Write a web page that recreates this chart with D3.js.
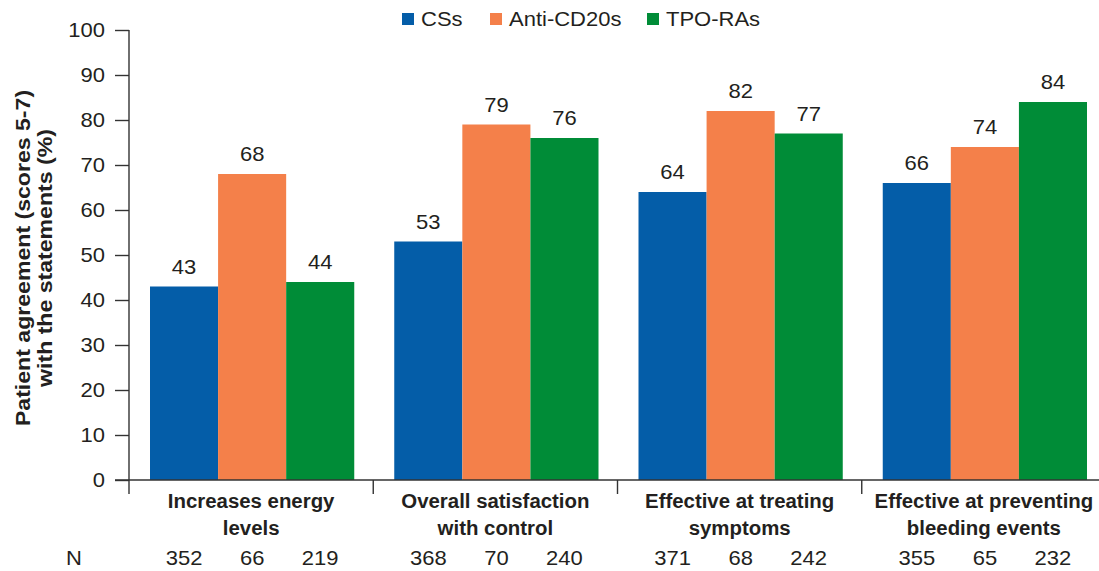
<!DOCTYPE html>
<html>
<head>
<meta charset="utf-8">
<script src="https://cdn.jsdelivr.net/npm/d3@7/dist/d3.min.js"></script>
<style>
  html, body { margin: 0; padding: 0; background: #fff; }
  svg { display: block; font-family: "Liberation Sans", Arial, sans-serif; }
</style>
</head>
<body>
<svg id="chart" width="1099" height="571"></svg>
<script>
// Statements (two-line labels)
const categories = [
  ["Increases energy", "levels"],
  ["Overall satisfaction", "with control"],
  ["Effective at treating", "symptoms"],
  ["Effective at preventing", "bleeding events"]
];
const seriesNames = ["CSs", "Anti-CD20s", "TPO-RAs"];
const seriesColors = ["#045da8", "#f4804a", "#008c37"];
const csValues = [43, 53, 64, 66];
const antiCd20Values = [68, 79, 82, 74];
const tpoValues = [44, 76, 77, 84];
const csN = [352, 368, 371, 355];
const antiCd20N = [66, 70, 68, 65];
const tpoN = [219, 240, 242, 232];
const yTicks = [0, 10, 20, 30, 40, 50, 60, 70, 80, 90, 100];

const values = [csValues, antiCd20Values, tpoValues];
const counts = [csN, antiCd20N, tpoN];
const textColor = "#231f20";
const axisColor = "#333";
const FONT = 20;
const SX = 1.1;       // slightly wide regular lettering
const SX_BOLD = 1.02; // bold lettering stretch

const svg = d3.select("#chart");

// Place a text item at (x, y) with a horizontal stretch
function label(parent, x, y, str, opts = {}) {
  const sx = opts.bold ? SX_BOLD : SX;
  return parent.append("text")
    .attr("transform", `translate(${x},${y}) scale(${sx},1)`)
    .attr("text-anchor", opts.anchor || "middle")
    .attr("font-size", opts.size || FONT)
    .attr("font-weight", opts.bold ? "bold" : null)
    .attr("fill", textColor)
    .text(str);
}

const x0 = d3.scaleBand()
  .domain(d3.range(categories.length))
  .range([129, 1106])
  .padding(0);

const x1 = d3.scaleBand()
  .domain(d3.range(seriesNames.length))
  .range([21, x0.bandwidth() - 19])
  .padding(0);

const y = d3.scaleLinear().domain([0, 100]).range([480, 30]);

// Bars
const groups = svg.append("g").selectAll("g")
  .data(categories.map((c, i) => i))
  .join("g")
  .attr("transform", i => `translate(${x0(i)},0)`);

groups.selectAll("rect")
  .data(i => seriesNames.map((s, j) => ({ j, v: values[j][i] })))
  .join("rect")
  .attr("x", d => x1(d.j))
  .attr("y", d => y(d.v))
  .attr("width", x1.bandwidth())
  .attr("height", d => y(0) - y(d.v))
  .attr("fill", d => seriesColors[d.j]);

// Value labels
const valueLayer = svg.append("g");
categories.forEach((c, i) => {
  seriesNames.forEach((s, j) => {
    const v = values[j][i];
    label(valueLayer, x0(i) + x1(j) + x1.bandwidth() / 2, y(v) - 13, v);
  });
});

// Y axis: domain line and ticks from the scale
const yAxis = svg.append("g")
  .attr("transform", "translate(129,0)")
  .call(d3.axisLeft(y).tickValues(yTicks).tickSize(14).tickFormat(""));
yAxis.select(".domain").attr("stroke", axisColor).attr("stroke-width", 1.4)
  .attr("d", `M0,${y(100)}V${y(0)}`);
yAxis.selectAll(".tick line").attr("stroke", axisColor).attr("stroke-width", 1.4);

const yLabels = svg.append("g");
yTicks.forEach(t => label(yLabels, 105, y(t) + 7, t, { anchor: "end" }));

// X axis baseline with group separators
svg.append("line")
  .attr("x1", 115).attr("x2", 1099)
  .attr("y1", y(0)).attr("y2", y(0))
  .attr("stroke", axisColor).attr("stroke-width", 1.4);
svg.append("g").selectAll("line")
  .data(d3.range(categories.length))
  .join("line")
  .attr("x1", i => x0(i))
  .attr("x2", i => x0(i))
  .attr("y1", y(0)).attr("y2", y(0) + 14)
  .attr("stroke", axisColor).attr("stroke-width", 1.4);

// Category labels
const catLayer = svg.append("g");
categories.forEach((c, i) => {
  const cx = x0(i) + x0.bandwidth() / 2;
  label(catLayer, cx, 508, c[0], { bold: true });
  label(catLayer, cx, 535, c[1], { bold: true });
});

// N row
const nLayer = svg.append("g");
label(nLayer, 66, 565, "N", { anchor: "start" });
categories.forEach((c, i) => {
  seriesNames.forEach((s, j) => {
    label(nLayer, x0(i) + x1(j) + x1.bandwidth() / 2, 565, counts[j][i]);
  });
});

// Y axis title
const yTitle = svg.append("g");
[["Patient agreement (scores 5-7)", 30], ["with the statements (%)", 52]].forEach(([t, bx]) => {
  yTitle.append("text")
    .attr("transform", `translate(${bx},258) rotate(-90) scale(${SX},1)`)
    .attr("text-anchor", "middle")
    .attr("font-size", 21)
    .attr("font-weight", "bold")
    .attr("fill", textColor)
    .text(t);
});

// Legend
const legendX = [402, 490, 647];
const legend = svg.append("g");
seriesNames.forEach((s, j) => {
  legend.append("rect")
    .attr("x", legendX[j]).attr("y", 13).attr("width", 12).attr("height", 12)
    .attr("fill", seriesColors[j]);
  label(legend, legendX[j] + 19, 26, s, { anchor: "start" });
});
</script>
</body>
</html>
